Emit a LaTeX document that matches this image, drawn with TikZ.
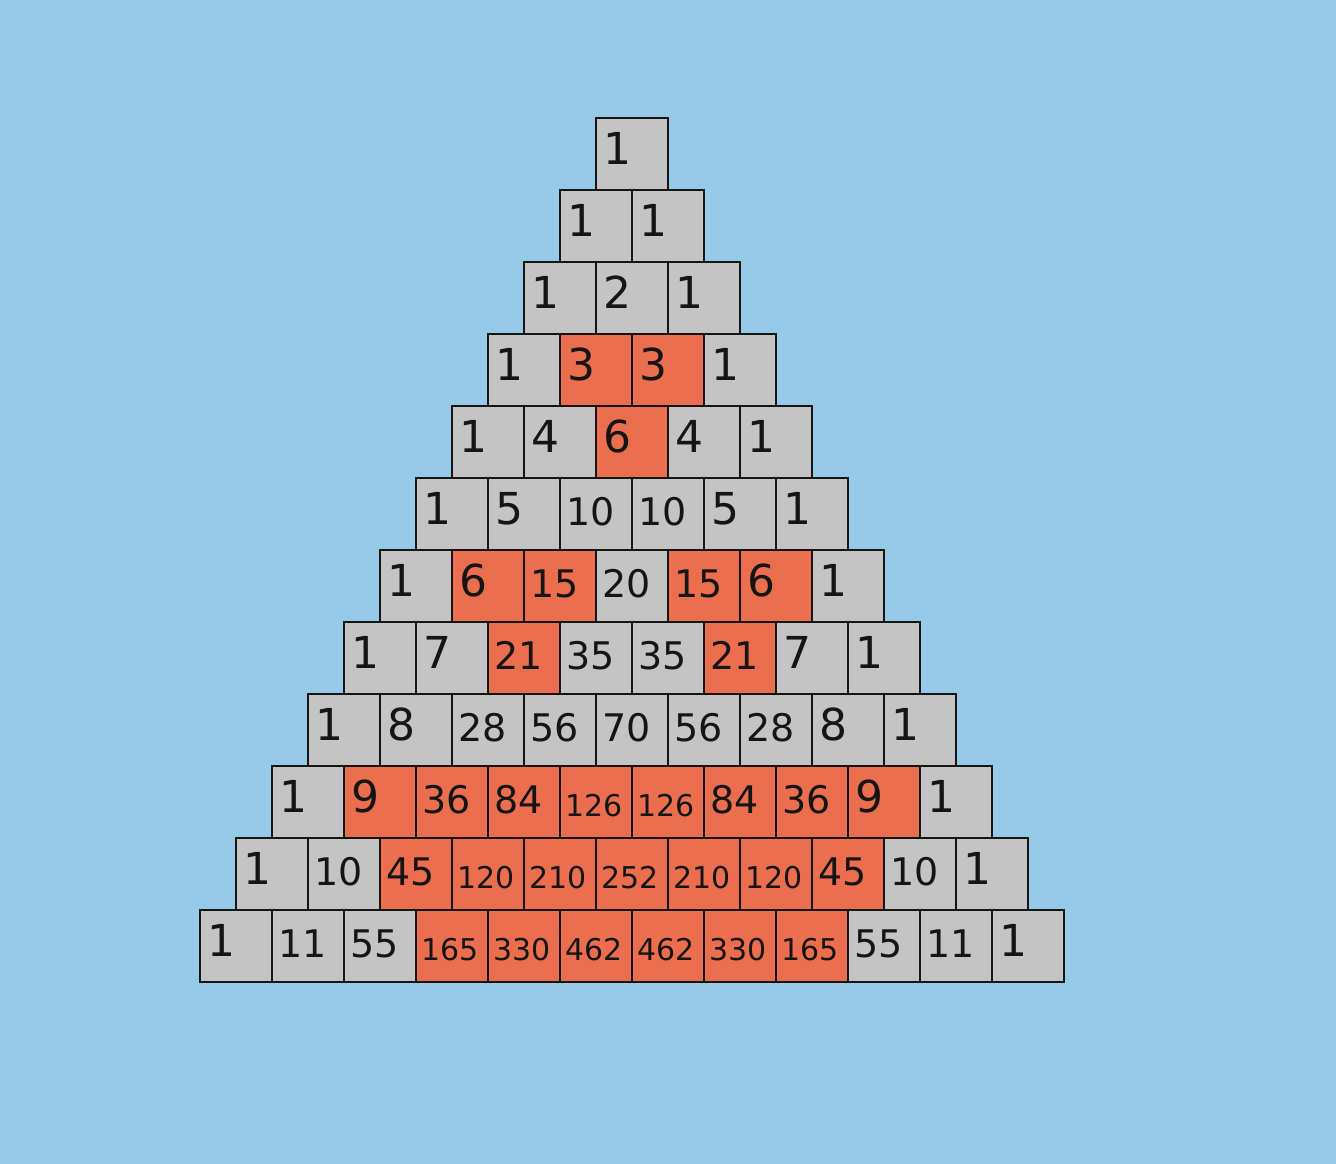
\documentclass[tikz,border=0pt]{standalone}
\usepackage{fontspec}
\setmainfont{DejaVu Sans}
\definecolor{bgc}{HTML}{97CAE8}
\definecolor{grayc}{HTML}{C4C4C4}
\definecolor{redc}{HTML}{EB6E4F}
\definecolor{inkc}{HTML}{151515}
\begin{document}
\begin{tikzpicture}[x=1pt,y=-1pt,
  cellbox/.style={draw=inkc,line width=2.2pt,minimum width=72pt,minimum height=72pt,inner sep=0pt,anchor=north west},
  numone/.style={anchor=base west,inner sep=0pt,text=inkc,font=\fontsize{44}{44}\selectfont},
  numtwo/.style={anchor=base west,inner sep=0pt,text=inkc,font=\fontsize{38}{38}\selectfont},
  numthree/.style={anchor=base west,inner sep=0pt,text=inkc,font=\fontsize{30}{30}\selectfont}]
\fill[bgc] (0,0) rectangle (1336,1164);
\useasboundingbox (0,0) rectangle (1336,1164);
\foreach \row [count=\n from 0] in {{1},{1,1},{1,2,1},{1,3,3,1},{1,4,6,4,1},{1,5,10,10,5,1},{1,6,15,20,15,6,1},{1,7,21,35,35,21,7,1},{1,8,28,56,70,56,28,8,1},{1,9,36,84,126,126,84,36,9,1},{1,10,45,120,210,252,210,120,45,10,1},{1,11,55,165,330,462,462,330,165,55,11,1}}{
  \foreach \v [count=\k from 0] in \row {
    \pgfmathsetmacro\cx{594.5-36*\n+72*\k}
    \pgfmathsetmacro\cy{116.7+72*\n}
    \pgfmathtruncatemacro\rm{mod(\v,3)}
    \ifnum\rm=0 \def\fc{redc}\else\def\fc{grayc}\fi
    \node[cellbox,fill=\fc] (c-\n-\k) at (\cx,\cy) {};
    \ifnum\v<10
      \node[numone] (t-\n-\k) at ([xshift=8.5pt,yshift=-47.5pt]c-\n-\k.north west) {\v};
    \else\ifnum\v<100
      \node[numtwo] (t-\n-\k) at ([xshift=8pt,yshift=-49pt]c-\n-\k.north west) {\v};
    \else
      \node[numthree] (t-\n-\k) at ([xshift=7pt,yshift=-51.5pt]c-\n-\k.north west) {\v};
    \fi\fi
  }
}
\end{tikzpicture}
\end{document}
